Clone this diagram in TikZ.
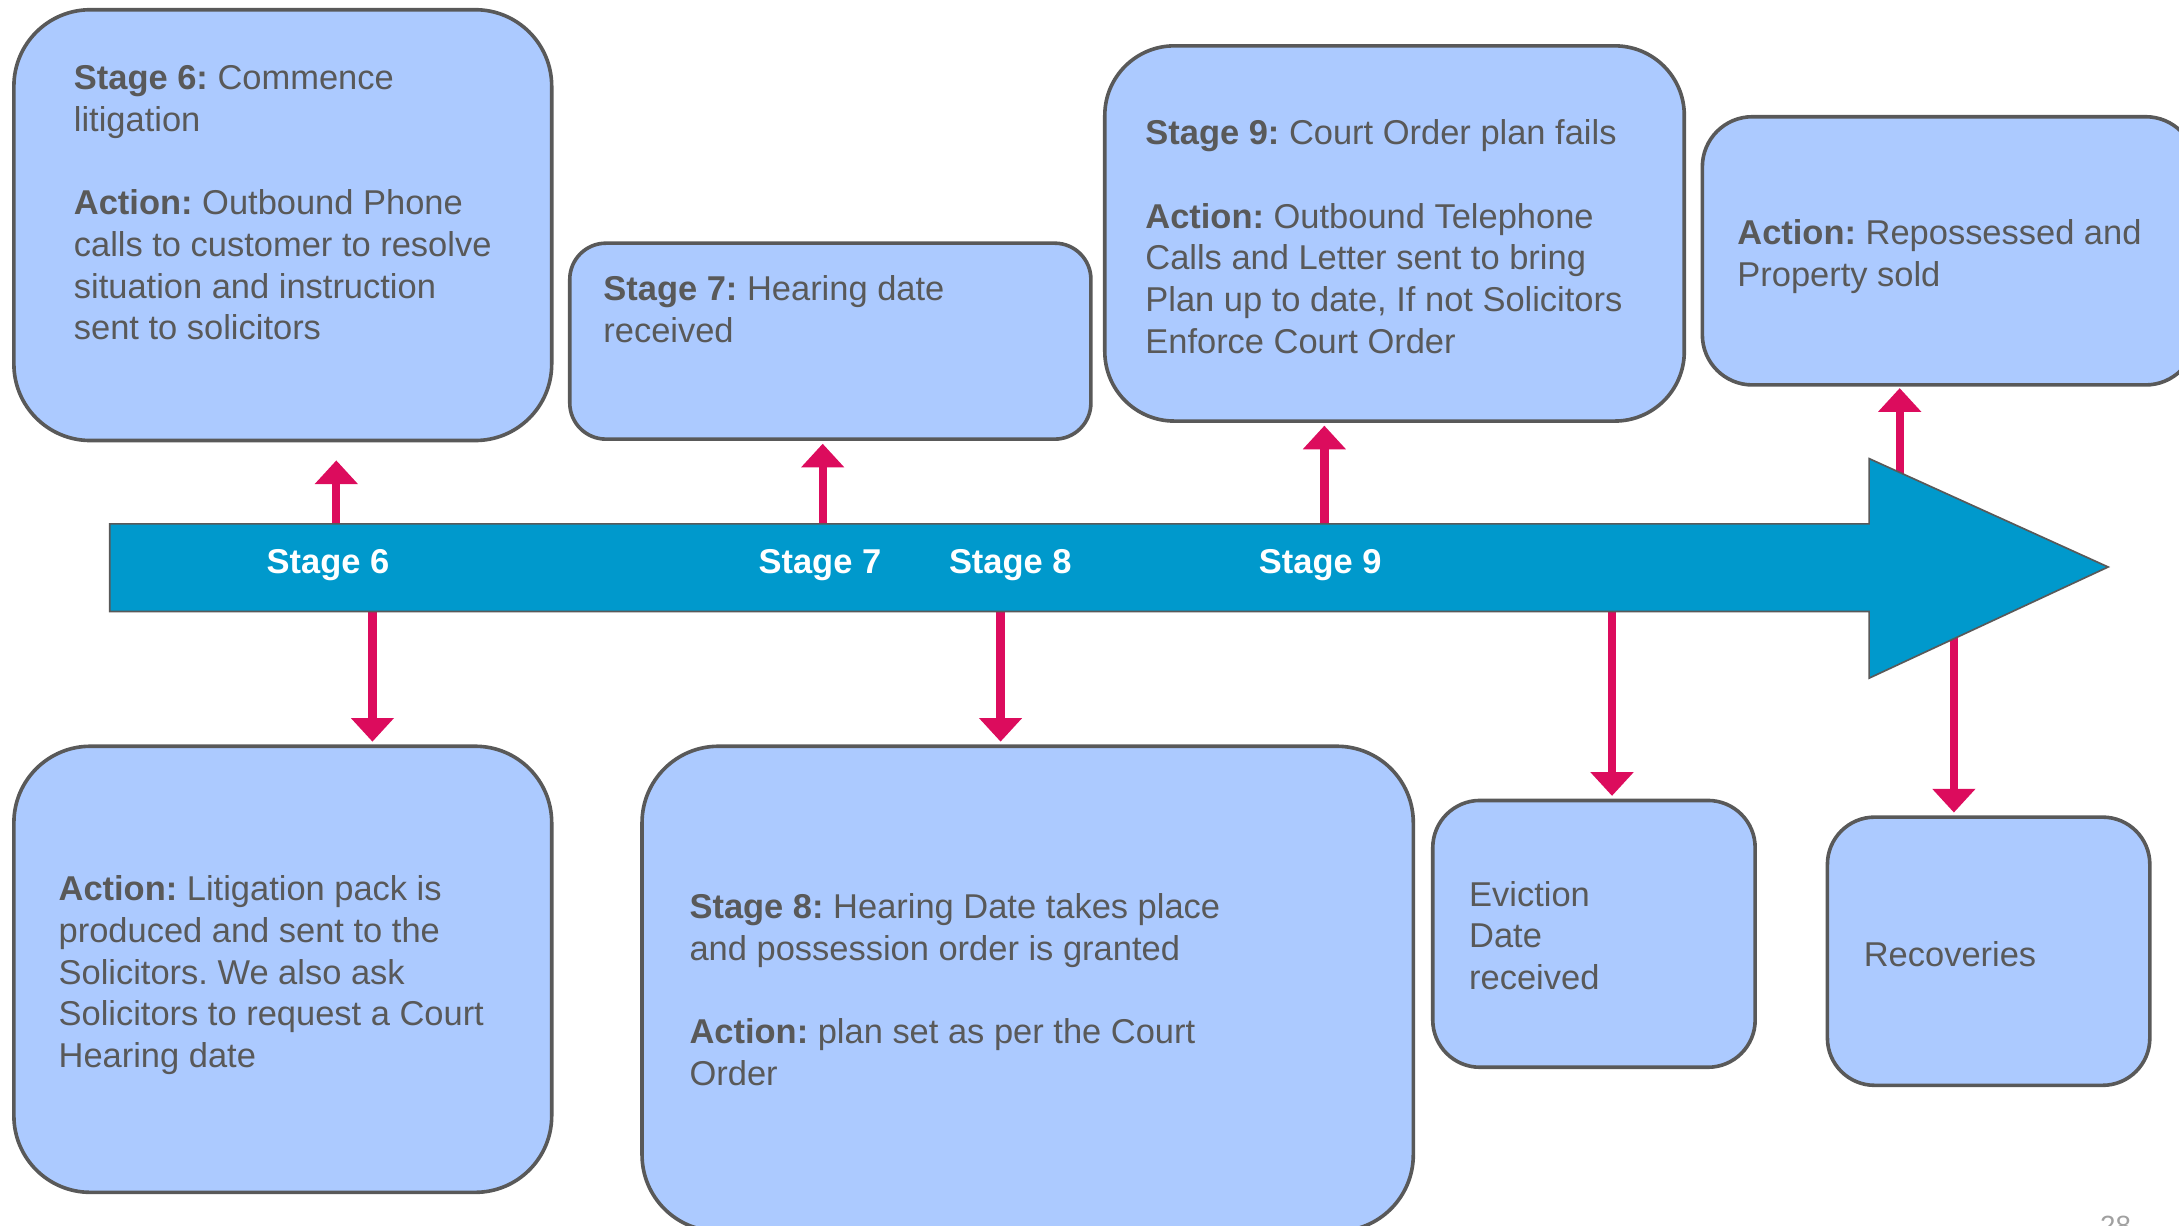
\documentclass[tikz,border=0pt]{standalone}
\usepackage{fontspec}
\setmainfont{Liberation Sans}
\usetikzlibrary{arrows.meta}
\definecolor{boxblue}{RGB}{172,202,255}
\definecolor{linegrey}{RGB}{89,89,89}
\definecolor{barblue}{RGB}{0,153,204}
\definecolor{linkpink}{RGB}{220,12,93}
\definecolor{pagegrey}{RGB}{160,160,160}
\frenchspacing

\begin{document}
\begin{tikzpicture}[x=1pt,y=-1pt,
    box/.style={draw=linegrey,fill=boxblue,line width=2.6pt},
    txt/.style={anchor=north west,inner sep=0pt,align=left,text=linegrey,font=\fontsize{24.8}{30}\selectfont},
    stagelabel/.style={inner sep=0pt,text=white,font=\fontsize{24.8}{30}\selectfont\bfseries},
    link/.style={draw=linkpink,line width=6pt,-{Triangle[width=30pt,length=17pt]}}]
\useasboundingbox (0,0) rectangle (1568,882);
\clip (0,0) rectangle (1568,882);

\node[box,rounded corners=55pt,minimum width=387pt,minimum height=310pt] (box6) at (203.5,162) {};
\node[box,rounded corners=26pt,minimum width=375pt,minimum height=141pt] (box7) at (597.5,245.5) {};
\node[box,rounded corners=50pt,minimum width=417pt,minimum height=270pt] (box9) at (1003.5,168) {};
\node[box,rounded corners=36pt,minimum width=355pt,minimum height=193pt] (boxrep) at (1402.5,180.5) {};
\node[box,rounded corners=55pt,minimum width=387pt,minimum height=321pt] (boxlit) at (203.5,697.5) {};
\node[box,rounded corners=55pt,minimum width=555pt,minimum height=349pt] (box8) at (739.5,711.5) {};
\node[box,rounded corners=34pt,minimum width=232pt,minimum height=192pt] (boxev) at (1147,672) {};
\node[box,rounded corners=34pt,minimum width=232pt,minimum height=193pt] (boxrec) at (1431,684.5) {};

\coordinate (up6) at (242,400);
\coordinate (down6) at (268,410);
\coordinate (up7) at (592,400);
\coordinate (down8) at (720,410);
\coordinate (up9) at (953,400);
\coordinate (downev) at (1160,410);
\coordinate (uprep) at (1367,420);
\coordinate (downrec) at (1406,420);

\draw[link,shorten >=13pt] (up6) -- (up6 |- box6.south);
\draw[link,shorten >=2pt] (down6) -- (down6 |- boxlit.north);
\draw[link,shorten >=2pt] (up7) -- (up7 |- box7.south);
\draw[link,shorten >=2pt] (down8) -- (down8 |- box8.north);
\draw[link,shorten >=2pt] (up9) -- (up9 |- box9.south);
\draw[link,shorten >=2pt] (downev) -- (downev |- boxev.north);
\draw[link,shorten >=1pt] (uprep) -- (uprep |- boxrep.south);
\draw[link,shorten >=2pt] (downrec) -- (downrec |- boxrec.north);

\draw[draw=linegrey,fill=barblue,line width=1.2pt] (79,377) -- (1345,377) -- (1345,330) -- (1517,408)
    -- (1345,488) -- (1345,440) -- (79,440) -- cycle;

\node[stagelabel] (lab6) at (236,407) {Stage 6};
\node[stagelabel] (lab7) at (590,407) {Stage 7};
\node[stagelabel] (lab8) at (727,407) {Stage 8};
\node[stagelabel] (lab9) at (950,407) {Stage 9};

\node[txt] (txt6) at (53,47) {\textbf{Stage 6:} Commence\\litigation\\[30pt]\textbf{Action:} Outbound Phone\\calls to customer to resolve\\situation and instruction\\sent to solicitors};
\node[txt] (txt7) at (434,198) {\textbf{Stage 7:} Hearing date\\received};
\node[txt] (txt9) at (824,86) {\textbf{Stage 9:} Court Order plan fails\\[30pt]\textbf{Action:} Outbound Telephone\\Calls and Letter sent to bring\\Plan up to date, If not Solicitors\\Enforce Court Order};
\node[txt] (txtrep) at (1250,158) {\textbf{Action:} Repossessed and\\Property sold};
\node[txt] (txtlit) at (42,630) {\textbf{Action:} Litigation pack is\\produced and sent to the\\Solicitors. We also ask\\Solicitors to request a Court\\Hearing date};
\node[txt] (txt8) at (496,643) {\textbf{Stage 8:} Hearing Date takes place\\and possession order is granted\\[30pt]\textbf{Action:} plan set as per the Court\\Order};
\node[txt] (txtev) at (1057,634) {Eviction\\Date\\received};
\node[txt] (txtrec) at (1341,677) {Recoveries};

\node[anchor=north west,inner sep=0pt,text=pagegrey,font=\fontsize{20}{24}\selectfont] (pagenum) at (1511,875) {28};
\end{tikzpicture}
\end{document}
